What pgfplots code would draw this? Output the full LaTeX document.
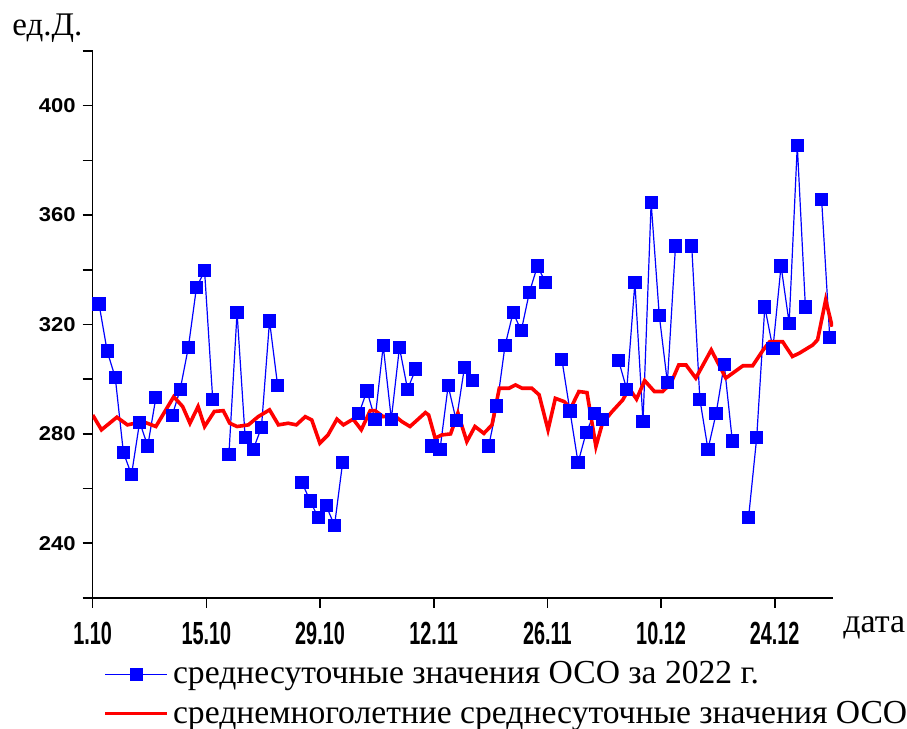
\documentclass[border=0pt]{standalone}
\usepackage{pgfplots}
\pgfplotsset{compat=1.18}
\usepackage{pgfplotstable}
\usepackage{fontspec}
\setmainfont{Liberation Serif}
\newfontfamily\xfont[FakeStretch=0.62]{Liberation Sans}
\newfontfamily\yfont[FakeStretch=1.1]{Liberation Sans}
\definecolor{oblue}{RGB}{0,0,255}
\definecolor{ored}{RGB}{255,0,0}

\pgfplotstableread{
x v
0 327.5
1 310.3
2 300.6
3 273.2
4 265.1
5 284.3
6 275.6
7 293.3
8 nan
9 286.6
10 296.3
11 311.6
12 333.5
13 339.6
14 292.7
15 nan
16 272.6
17 324.4
18 278.6
19 274.4
20 282.3
21 321.3
22 297.6
23 nan
24 nan
25 262.2
26 255.5
27 249.4
28 253.7
29 246.4
30 269.5
31 nan
32 287.4
33 295.7
34 285.4
35 312.2
36 285.4
37 311.6
38 296.3
39 303.7
40 nan
41 275.6
42 274.4
43 297.6
44 284.8
45 304.2
46 299.4
47 nan
48 275.6
49 290.2
50 312.2
51 324.4
52 317.7
53 331.7
54 341.4
55 335.3
56 nan
57 307.3
58 288.4
59 269.5
60 280.5
61 287.4
62 285.4
63 nan
64 306.7
65 296.3
66 335.3
67 284.4
68 364.6
69 323.4
70 298.8
71 348.7
72 nan
73 348.7
74 292.7
75 274.4
76 287.4
77 305.5
78 277.4
79 nan
80 249.4
81 278.6
82 326.4
83 311.2
84 341.4
85 320.5
86 385.4
87 326.4
88 nan
89 365.6
90 315.2
}\obsdata

\pgfplotstableread{
x v
-0.78 286.9
0.3 281.5
2.2 286.1
3.5 283.3
5.4 284.5
7.0 282.7
9.2 293.6
10.3 290.0
11.2 283.9
12.2 290.0
13.0 282.7
14.2 288.2
15.3 288.5
16.1 283.9
17.0 282.7
18.4 283.3
19.6 286.3
21.0 288.8
22.1 283.3
23.3 283.9
24.3 283.3
25.4 286.3
26.2 285.1
27.2 276.6
28.2 279.6
29.3 285.4
30.1 283.3
31.3 285.4
32.3 281.5
33.4 288.5
34.0 288.5
35.0 286.3
36.3 286.9
37.3 284.5
38.3 282.7
39.2 285.1
40.2 287.8
40.6 286.9
41.4 278.4
42.2 279.6
43.3 280.0
44.2 287.6
45.3 277.2
46.3 282.7
47.4 280.2
48.4 283.3
49.3 296.7
50.5 296.7
51.3 297.9
52.1 296.7
53.3 296.7
54.2 294.3
55.3 281.5
56.2 293.0
57.3 291.8
58.1 289.4
59.1 295.5
60.1 295.1
61.2 275.4
62.0 283.9
63.2 288.2
64.5 292.4
65.3 296.7
66.2 292.7
67.2 299.5
68.4 295.5
69.4 295.5
70.4 298.3
71.4 305.2
72.3 305.2
73.5 300.4
75.4 310.7
77.2 300.4
79.3 304.9
80.5 304.9
81.8 310.7
82.6 313.7
84.2 313.7
85.4 308.3
86.3 309.6
87.9 312.5
88.5 314.4
89.5 329.0
90.3 319.2
}\meandata

\begin{document}
\begin{tikzpicture}[x=1pt,y=1pt]
\path[use as bounding box] (0,0) rectangle (453.5,364.5);
\begin{axis}[
  at={(46.35pt,65.5pt)}, anchor=south west,
  scale only axis, width=370.15pt, height=273.5pt,
  xmin=-0.78, xmax=90.4, ymin=220, ymax=420,
  axis lines=left, axis line style={-, line width=0.8pt, black},
  tick align=outside, major tick length=5pt, minor tick length=5pt,
  tick style={line width=0.8pt, black},
  xtick={-0.78,13.22,27.22,41.22,55.22,69.22,83.22},
  xticklabels={1.10,15.10,29.10,12.11,26.11,10.12,24.12},
  ytick={240,280,320,360,400},
  minor ytick={220,260,300,340,380,420},
  /pgf/number format/assume math mode=true,
  xticklabel style={font=\xfont\bfseries\fontsize{16}{16}\selectfont, inner sep=1pt, yshift=-6pt},
  yticklabel style={font=\yfont\bfseries\fontsize{10}{10}\selectfont},
  unbounded coords=jump,
  legend image code/.code={\draw[mark repeat=2,mark phase=2,#1] plot coordinates {(0pt,0pt) (15.5pt,0pt) (31pt,0pt)};},
  legend style={at={(0.014,-0.108)}, anchor=north west, draw=none, fill=none,
    font=\fontsize{16.8}{19.5}\selectfont, cells={anchor=west}, inner sep=0pt,
    row sep=3pt},
]
\addplot[oblue, line width=0.6pt, mark=square*, mark size=3pt, mark options={solid, fill=oblue, draw=oblue}] table[x=x,y=v] {\obsdata};
\addlegendentry{среднесуточные значения ОСО за 2022 г.}
\addplot[ored, line width=1.8pt, no marks] table[x=x,y=v] {\meandata};
\addlegendentry{среднемноголетние среднесуточные значения ОСО}
\end{axis}
\node[anchor=base west, inner sep=0pt, font=\fontsize{16.5}{19}\selectfont] at (6,346.5) {ед.Д.};
\node[anchor=base west, inner sep=0pt, font=\fontsize{17}{19}\selectfont] at (421.5,48) {дата};
\end{tikzpicture}
\end{document}
